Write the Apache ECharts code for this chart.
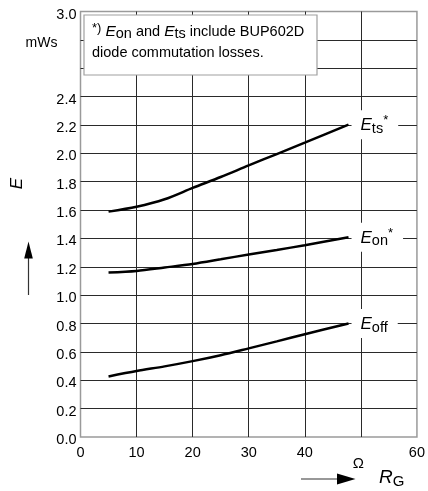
<!DOCTYPE html>
<html>
<head>
<meta charset="utf-8">
<script src="https://cdn.jsdelivr.net/npm/echarts@6/dist/echarts.min.js"></script>
<style>
html,body{margin:0;padding:0;background:#fff;}
#c{width:428px;height:491px;}
</style>
</head>
<body>
<div id="c"></div>
<script>
// ---- data ----
const rG = [5, 10, 15, 20, 25, 30, 35, 40, 47.8];
const eTs = [1.589, 1.623, 1.676, 1.756, 1.833, 1.915, 1.995, 2.075, 2.202];
const eOn = [1.160, 1.171, 1.195, 1.220, 1.253, 1.287, 1.319, 1.352, 1.408];
const eOff = [0.427, 0.465, 0.498, 0.535, 0.577, 0.625, 0.674, 0.725, 0.800];
const xTickLabels = ['0', '10', '20', '30', '40', 'Ω', '60'];
const yTickLabels = ['0.0','0.2','0.4','0.6','0.8','1.0','1.2','1.4','1.6','1.8','2.0','2.2','2.4','','mWs','3.0'];
const curveNames = ['E_ts*', 'E_on*', 'E_off'];

const FONT = '"Liberation Sans", Arial, Helvetica, sans-serif';
const pairs = arr => rG.map((r, i) => [r, arr[i]]);

const richLbl = {
  e: {fontSize: 17, fontStyle: 'italic', lineHeight: 22, verticalAlign: 'middle', fontFamily: FONT, color: '#000'},
  sub: {fontSize: 14.5, lineHeight: 14, verticalAlign: 'bottom', fontFamily: FONT, color: '#000'},
  sup: {fontSize: 13, lineHeight: 13, verticalAlign: 'top', fontFamily: FONT, color: '#000'}
};
function curveLabel(name) {
  const m = name.match(/^E_([a-z]+)(\*?)$/);
  return '{e|E}{sub|' + m[1] + '}' + (m[2] ? '{sup|' + m[2] + '}' : '');
}
function mkSeries(name, arr) {
  return {
    type: 'line', name: name, data: pairs(arr), smooth: 0.3,
    symbol: 'none', lineStyle: {color: '#000', width: 2.5}, z: 5,
    endLabel: {
      show: true, formatter: () => curveLabel(name), distance: 3,
      backgroundColor: '#fff', padding: [4, 10, 3, 9], rich: richLbl
    },
    labelLayout: {hideOverlap: false}
  };
}

const chart = echarts.init(document.getElementById('c'), null, {renderer: 'canvas'});
chart.setOption({
  animation: false,
  backgroundColor: '#fff',
  textStyle: {fontFamily: FONT},
  grid: {left: 80.5, right: 6.7, top: 11.5, bottom: 54, show: true, borderColor: '#9a9a9a', borderWidth: 1.5, backgroundColor: 'transparent'},
  xAxis: {
    type: 'value', min: 0, max: 60, interval: 10,
    axisLine: {show: false}, axisTick: {show: false},
    splitLine: {show: true, showMinLine: false, showMaxLine: false, lineStyle: {color: '#2a2a2a', width: 1}},
    axisLabel: {
      margin: 8, fontSize: 14.5, color: '#000', fontFamily: FONT,
      formatter: v => {
        const s = xTickLabels[Math.round(v / 10)];
        return s === 'Ω' ? '{o|Ω}' : s;
      },
      rich: {o: {fontSize: 15, color: '#000', padding: [11, 5, 0, 0], fontFamily: FONT}}
    }
  },
  yAxis: {
    type: 'value', min: 0, max: 3, interval: 0.2,
    axisLine: {show: false}, axisTick: {show: false},
    splitLine: {show: true, showMinLine: false, showMaxLine: false, lineStyle: {color: '#2a2a2a', width: 1}},
    axisLabel: {
      margin: 4, fontSize: 14.5, color: '#000', fontFamily: FONT, padding: [6, 0, 0, 0],
      formatter: v => {
        const s = yTickLabels[Math.round(v / 0.2)];
        return s === 'mWs' ? '{u|mWs}' : s;
      },
      rich: {u: {fontSize: 14, color: '#000', padding: [0, 19, 0, 0], fontFamily: FONT}}
    }
  },
  series: [mkSeries(curveNames[0], eTs), mkSeries(curveNames[1], eOn), mkSeries(curveNames[2], eOff)],
  graphic: [
    // note box
    {type: 'rect', shape: {x: 84, y: 15, width: 233, height: 60}, style: {fill: '#fff', stroke: '#a0a0a0', lineWidth: 1.2}, z: 20},
    {type: 'text', x: 92, y: 31.5, z: 21, style: {
      text: '{sup|*)} {e|E}{sub|on}{t| and }{e|E}{sub|ts}{t| include BUP602D}',
      verticalAlign: 'middle', align: 'left', fill: '#000', font: '14.5px ' + FONT,
      rich: {
        t: {fontSize: 14.5, lineHeight: 20, verticalAlign: 'middle', fontFamily: FONT},
        e: {fontSize: 15.5, fontStyle: 'italic', lineHeight: 20, verticalAlign: 'middle', fontFamily: FONT},
        sub: {fontSize: 14.5, lineHeight: 14, verticalAlign: 'bottom', fontFamily: FONT},
        sup: {fontSize: 13, lineHeight: 13, verticalAlign: 'top', fontFamily: FONT}
      }
    }},
    {type: 'text', x: 92, y: 52.5, z: 21, style: {
      text: 'diode commutation losses.', verticalAlign: 'middle', align: 'left', fill: '#000', font: '14.5px ' + FONT
    }},
    // y axis title and arrow
    {type: 'text', x: 17.5, y: 183.5, rotation: Math.PI / 2, z: 21, style: {
      text: 'E', align: 'center', verticalAlign: 'middle', fill: '#000', font: 'italic 17px ' + FONT
    }},
    {type: 'line', shape: {x1: 28.5, y1: 295, x2: 28.5, y2: 256}, style: {stroke: '#333', lineWidth: 1.2}, z: 21},
    {type: 'polygon', shape: {points: [[28.5, 241.5], [24.2, 258.5], [32.8, 258.5]]}, style: {fill: '#000'}, z: 21},
    // x axis title and arrow
    {type: 'line', shape: {x1: 301, y1: 479, x2: 340, y2: 479}, style: {stroke: '#333', lineWidth: 1.2}, z: 21},
    {type: 'polygon', shape: {points: [[355.5, 479], [337, 473.5], [337, 484.5]]}, style: {fill: '#000'}, z: 21},
    {type: 'text', x: 379, y: 478, z: 21, style: {
      text: '{r|R}{g|G}', align: 'left', verticalAlign: 'middle', fill: '#000',
      rich: {
        r: {fontSize: 19, fontStyle: 'italic', lineHeight: 22, verticalAlign: 'middle', fontFamily: FONT},
        g: {fontSize: 15, lineHeight: 15, verticalAlign: 'bottom', fontFamily: FONT}
      }
    }}
  ]
});
</script>
</body>
</html>
